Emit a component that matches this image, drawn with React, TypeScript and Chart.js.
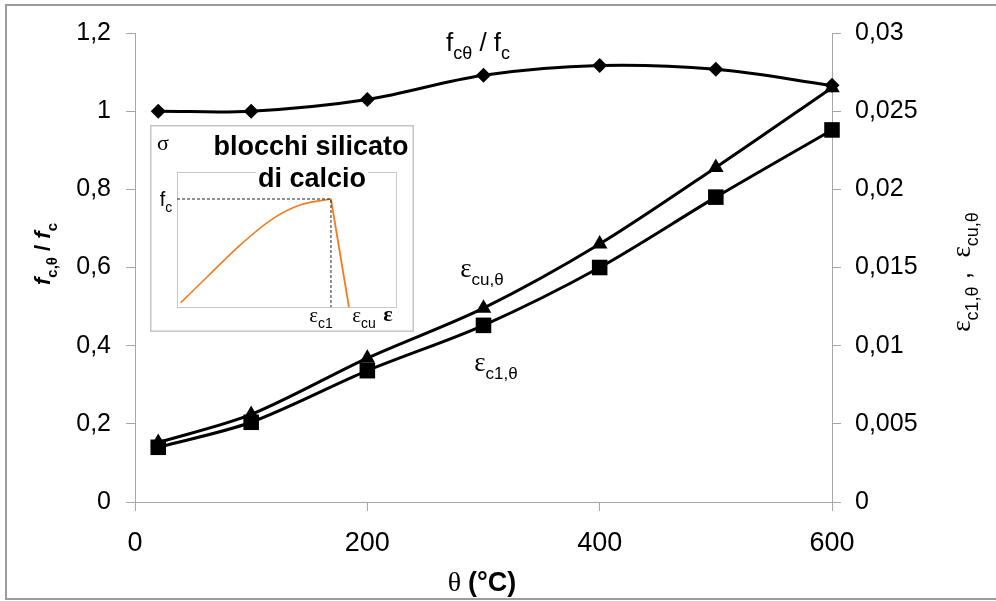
import React, { useEffect, useRef } from "react";
import { Chart, registerables } from "chart.js";
Chart.register(...registerables);

// ---- main chart data ----
const temperatures = [20, 100, 200, 300, 400, 500, 600];
const fcRatio = [1.0, 1.0, 1.03, 1.092, 1.117, 1.107, 1.066];
const epsCu = [0.0038, 0.0056, 0.0092, 0.0124, 0.0165, 0.0214, 0.0265];
const epsC1 = [0.0035, 0.0051, 0.0084, 0.0113, 0.015, 0.0195, 0.0238];
const xTicks = [0, 200, 400, 600];
const leftTicks = [0, 0.2, 0.4, 0.6, 0.8, 1, 1.2];
const rightTicks = [0, 0.005, 0.01, 0.015, 0.02, 0.025, 0.03];

// ---- inset (schematic stress-strain) data ----
const insetCurveEps = [1.7, 13.6, 28.8, 44, 56.2, 70.3];
const insetCurveSigma = [3.2, 22, 45.9, 65.7, 75.6, 80];
const insetDropEps = [70.3, 78.5];
const insetDropSigma = [80, 0];
const insetGuideEps = [0, 70.3, 70.3];
const insetGuideSigma = [80, 80, 0];

const SANS = '"Liberation Sans", Arial, sans-serif';
const SERIF = '"Liberation Serif", "Times New Roman", serif';
const AXIS_GRAY = "#a6a6a6";

const fmt = (v: number) => String(Math.round(v * 100000) / 100000).replace(".", ",");

type Part = { t: string; size: number; bold?: boolean; italic?: boolean; sub?: boolean; serif?: boolean };

function fontOf(p: Part) {
  return `${p.italic ? "italic " : ""}${p.bold ? "bold " : ""}${p.size}px ${p.serif ? SERIF : SANS}`;
}

function drawRich(
  ctx: CanvasRenderingContext2D,
  parts: Part[],
  cx: number,
  cy: number,
  mainSize: number,
  rotate = 0,
  bg?: string
) {
  ctx.save();
  ctx.translate(cx, cy);
  ctx.rotate(rotate);
  let total = 0;
  const widths = parts.map((p) => {
    ctx.font = fontOf(p);
    const w = ctx.measureText(p.t).width;
    total += w;
    return w;
  });
  let x = -total / 2;
  const base = mainSize * 0.36;
  const subOff = mainSize * 0.3;
  if (bg) {
    ctx.fillStyle = bg;
    ctx.fillRect(x - 2, -mainSize * 0.55, total + 4, mainSize * 1.1);
  }
  ctx.fillStyle = "#000";
  ctx.textBaseline = "alphabetic";
  ctx.textAlign = "left";
  parts.forEach((p, i) => {
    ctx.font = fontOf(p);
    ctx.fillText(p.t, x, p.sub ? base + subOff : base);
    x += widths[i];
  });
  ctx.restore();
}

const mainFrame = {
  id: "mainFrame",
  beforeDraw(chart: any) {
    const ctx = chart.ctx as CanvasRenderingContext2D;
    ctx.save();
    ctx.fillStyle = "#fff";
    ctx.fillRect(0, 0, chart.width, chart.height);
    ctx.strokeStyle = "#9c9c9c";
    ctx.lineWidth = 2;
    ctx.strokeRect(6, 5, 1200, 594);
    ctx.restore();
  },
  afterDraw(chart: any) {
    const ctx = chart.ctx as CanvasRenderingContext2D;
    // left axis title
    drawRich(
      ctx,
      [
        { t: "f", size: 22, bold: true, italic: true },
        { t: "c,θ", size: 15, bold: true, sub: true },
        { t: " / ", size: 22, bold: true },
        { t: "f", size: 22, bold: true, italic: true },
        { t: "c", size: 15, bold: true, sub: true },
      ],
      42,
      254,
      22,
      -Math.PI / 2
    );
    // right axis title
    drawRich(
      ctx,
      [
        { t: "ε", size: 27, serif: true },
        { t: "c1,θ", size: 18, sub: true },
        { t: " ,  ", size: 26 },
        { t: "ε", size: 27, serif: true },
        { t: "cu,θ", size: 18, sub: true },
      ],
      961,
      272,
      26,
      -Math.PI / 2
    );
    // x axis title
    drawRich(
      ctx,
      [
        { t: "θ ", size: 28, serif: true },
        { t: "(°C)", size: 27, bold: true },
      ],
      482,
      581,
      27
    );
    // series labels
    drawRich(
      ctx,
      [
        { t: "f", size: 26 },
        { t: "cθ", size: 18, sub: true },
        { t: " / ", size: 26 },
        { t: "f", size: 26 },
        { t: "c", size: 18, sub: true },
      ],
      478,
      42,
      26
    );
    drawRich(
      ctx,
      [
        { t: "ε", size: 27, serif: true },
        { t: "cu,θ", size: 17, sub: true },
      ],
      482,
      268,
      26
    );
    drawRich(
      ctx,
      [
        { t: "ε", size: 27, serif: true },
        { t: "c1,θ", size: 17, sub: true },
      ],
      496,
      362,
      26
    );
  },
};

const insetDecor = {
  id: "insetDecor",
  beforeDraw(chart: any) {
    const ctx = chart.ctx as CanvasRenderingContext2D;
    ctx.save();
    ctx.fillStyle = "#fff";
    ctx.fillRect(0, 0, chart.width, chart.height);
    ctx.strokeStyle = "#c4c4c4";
    ctx.lineWidth = 1.5;
    ctx.strokeRect(0.75, 0.75, chart.width - 1.5, chart.height - 1.5);
    const a = chart.chartArea;
    ctx.strokeStyle = "#c8c8c8";
    ctx.lineWidth = 1;
    ctx.strokeRect(a.left + 0.5, a.top + 0.5, a.right - a.left, a.bottom - a.top);
    ctx.restore();
  },
  afterDraw(chart: any) {
    const ctx = chart.ctx as CanvasRenderingContext2D;
    drawRich(ctx, [{ t: "σ", size: 22, serif: true }], 13, 17, 21);
    drawRich(ctx, [{ t: "blocchi silicato", size: 27, bold: true }], 161, 20, 27);
    drawRich(ctx, [{ t: "di calcio", size: 27, bold: true }], 162, 52, 27, 0, "#fff");
    drawRich(
      ctx,
      [
        { t: "f", size: 20 },
        { t: "c", size: 14, sub: true },
      ],
      16,
      74,
      20
    );
    drawRich(
      ctx,
      [
        { t: "ε", size: 21, serif: true },
        { t: "c1", size: 14, sub: true },
      ],
      171,
      190,
      20
    );
    drawRich(
      ctx,
      [
        { t: "ε", size: 21, serif: true },
        { t: "cu", size: 14, sub: true },
      ],
      214,
      190,
      20
    );
    drawRich(ctx, [{ t: "ε", size: 22, bold: true, serif: true }], 238, 188, 21);
  },
};

function axisCommon(ticksArr: number[], size: number, padding: number) {
  return {
    afterBuildTicks: (s: any) => {
      s.ticks = ticksArr.map((v) => ({ value: v }));
    },
    grid: {
      display: true,
      drawOnChartArea: false,
      drawTicks: true,
      tickLength: 9,
      color: AXIS_GRAY,
      lineWidth: 1,
    },
    border: { display: true, color: AXIS_GRAY, width: 1 },
    ticks: {
      color: "#000",
      font: { family: SANS, size },
      padding,
      maxRotation: 0,
      autoSkip: false,
      callback: (v: any) => fmt(Number(v)),
    },
  };
}

export default function App() {
  const mainRef = useRef<HTMLCanvasElement>(null);
  const insetRef = useRef<HTMLCanvasElement>(null);

  useEffect(() => {
    const mainChart = new Chart(mainRef.current as HTMLCanvasElement, {
      type: "line",
      data: {
        datasets: [
          {
            label: "fcθ/fc",
            data: temperatures.map((t, i) => ({ x: t, y: fcRatio[i] })),
            yAxisID: "y",
            borderColor: "#000",
            backgroundColor: "#000",
            borderWidth: 3,
            pointStyle: "rectRot",
            pointRadius: 7.5,
            pointBorderWidth: 0,
            tension: 0.35,
            clip: false,
          },
          {
            label: "εcu,θ",
            data: temperatures.map((t, i) => ({ x: t, y: epsCu[i] })),
            yAxisID: "y1",
            borderColor: "#000",
            backgroundColor: "#000",
            borderWidth: 3,
            pointStyle: "triangle",
            pointRadius: 9,
            pointBorderWidth: 0,
            tension: 0.3,
            clip: false,
          },
          {
            label: "εc1,θ",
            data: temperatures.map((t, i) => ({ x: t, y: epsC1[i] })),
            yAxisID: "y1",
            borderColor: "#000",
            backgroundColor: "#000",
            borderWidth: 3,
            pointStyle: "rect",
            pointRadius: 11,
            pointBorderWidth: 0,
            tension: 0.3,
            clip: false,
          },
        ],
      } as any,
      options: {
        animation: false,
        responsive: false,
        maintainAspectRatio: false,
        devicePixelRatio: 1,
        layout: { padding: { top: 33, left: 0, right: 0, bottom: 0 } },
        plugins: { legend: { display: false }, tooltip: { enabled: false } },
        scales: {
          x: {
            type: "linear",
            min: 0,
            max: 600,
            ...axisCommon(xTicks, 27, 16),
            afterFit: (s: any) => {
              s.height = 99;
            },
          },
          y: {
            type: "linear",
            position: "left",
            min: 0,
            max: 1.2,
            ...axisCommon(leftTicks, 25, 15),
            afterFit: (s: any) => {
              s.width = 135;
            },
          },
          y1: {
            type: "linear",
            position: "right",
            min: 0,
            max: 0.03,
            ...axisCommon(rightTicks, 25, 14),
            afterFit: (s: any) => {
              s.width = 164;
            },
          },
        } as any,
      },
      plugins: [mainFrame],
    });

    const insetChart = new Chart(insetRef.current as HTMLCanvasElement, {
      type: "line",
      data: {
        datasets: [
          {
            data: insetGuideEps.map((e, i) => ({ x: e, y: insetGuideSigma[i] })),
            borderColor: "#222",
            borderWidth: 1,
            borderDash: [3, 2],
            pointRadius: 0,
            tension: 0,
          },
          {
            data: insetCurveEps.map((e, i) => ({ x: e, y: insetCurveSigma[i] })),
            borderColor: "#f07d22",
            borderWidth: 1.6,
            pointRadius: 0,
            cubicInterpolationMode: "monotone",
          },
          {
            data: insetDropEps.map((e, i) => ({ x: e, y: insetDropSigma[i] })),
            borderColor: "#f07d22",
            borderWidth: 1.8,
            pointRadius: 0,
            tension: 0,
          },
        ],
      } as any,
      options: {
        animation: false,
        responsive: false,
        maintainAspectRatio: false,
        devicePixelRatio: 1,
        layout: { padding: { left: 27, right: 18, top: 47, bottom: 25 } },
        plugins: { legend: { display: false }, tooltip: { enabled: false } },
        scales: {
          x: { type: "linear", display: false, min: 0, max: 100 },
          y: { type: "linear", display: false, min: 0, max: 100 },
        },
      },
      plugins: [insetDecor],
    });

    return () => {
      mainChart.destroy();
      insetChart.destroy();
    };
  }, []);

  return (
    <div style={{ position: "absolute", left: 0, top: 0, width: 996, height: 601, background: "#fff", overflow: "hidden" }}>
      <canvas ref={mainRef} width={996} height={601} style={{ position: "absolute", left: 0, top: 0, width: 996, height: 601 }} />
      <canvas ref={insetRef} width={264} height={207} style={{ position: "absolute", left: 150, top: 125, width: 264, height: 207 }} />
    </div>
  );
}
